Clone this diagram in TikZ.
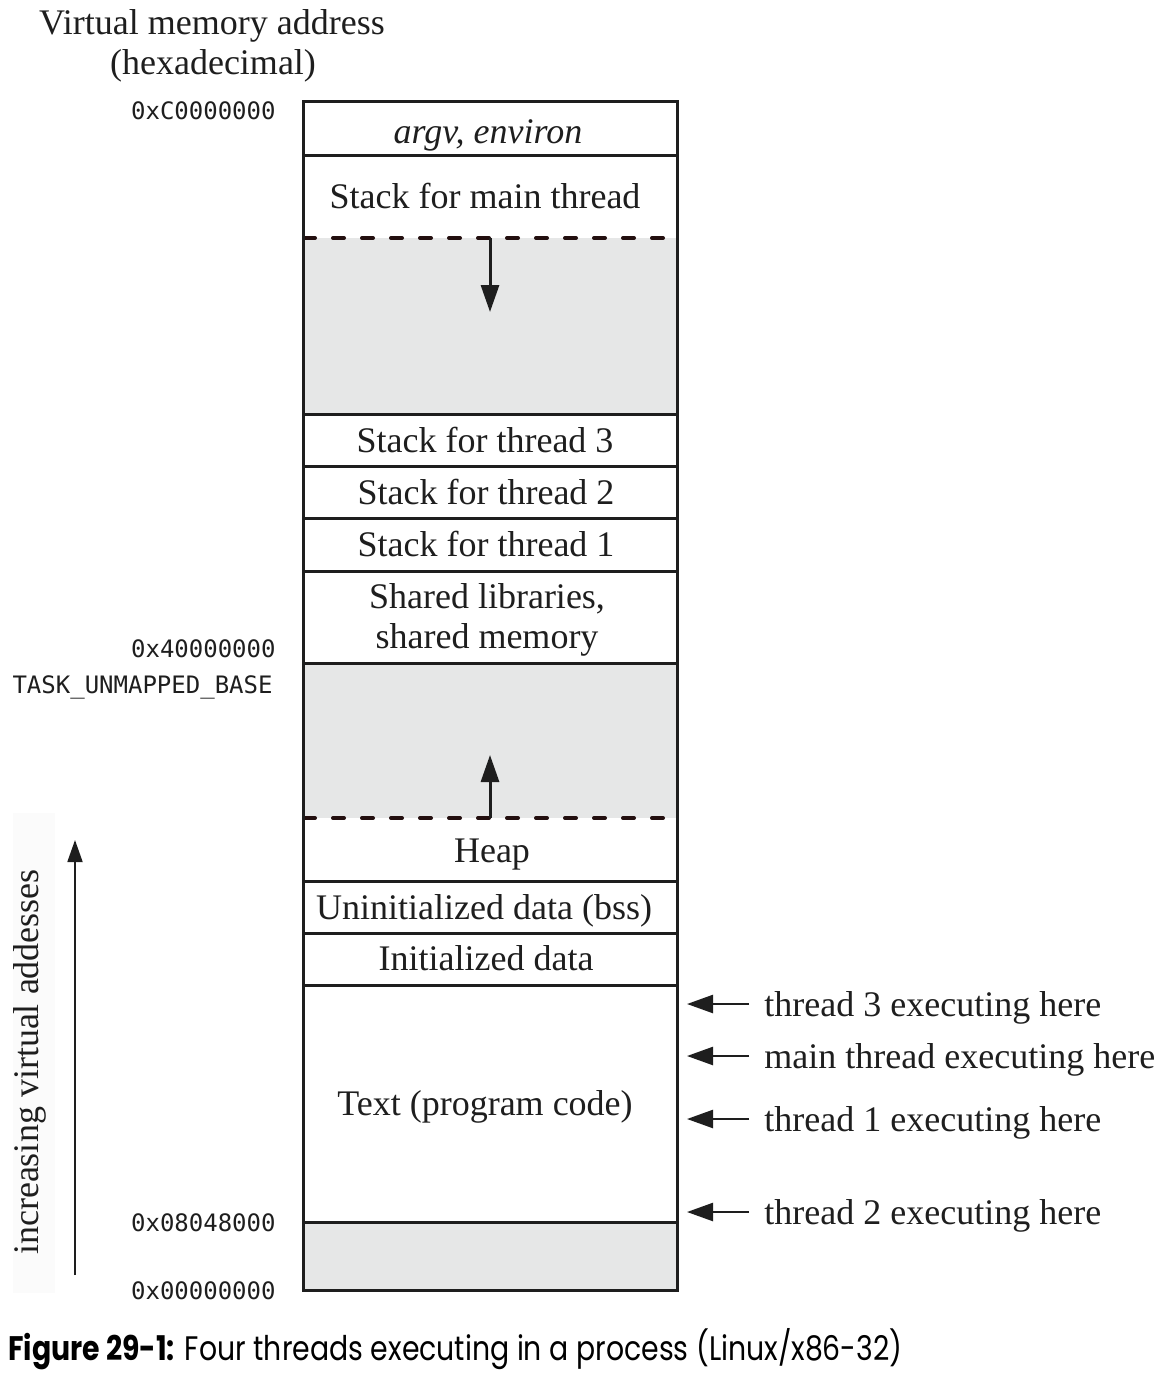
\documentclass[tikz,border=0pt]{standalone}
\usepackage{fontspec}
\setmainfont{Liberation Serif}
\newfontfamily\addrfont{DejaVu Sans Mono}
\newfontfamily\capfont{Poppins}
\usetikzlibrary{arrows.meta}
\definecolor{gfill}{RGB}{230,231,231}
\definecolor{dashcol}{RGB}{35,15,15}
\definecolor{inkc}{RGB}{30,30,30}
\begin{document}
\begin{tikzpicture}[x=0.5pt,y=-0.5pt,
  seg/.style={draw=inkc, line width=1.5pt},
  lblbase/.style={font=\fontsize{18}{20}\selectfont, inner sep=0pt, text height=12.6pt, text depth=4pt, text=inkc},
  lbl/.style={lblbase, yshift=-2pt},
  lbltwo/.style={font=\fontsize{18}{20}\selectfont, inner sep=0pt, align=center, text=inkc, yshift=-1.5pt},
  addr/.style={font=\addrfont\fontsize{12}{14}\selectfont, anchor=east, inner sep=0pt, text height=8.8pt, text depth=2.4pt, text=inkc, yshift=-1.5pt},
  dashline/.style={draw=dashcol, line width=2pt, dash pattern=on 5.5pt off 9pt, line cap=round},
  growarrow/.style={draw=inkc, line width=1.5pt, -{Triangle[length=13.5pt,width=9pt]}},
  ptr/.style={draw=inkc, line width=1.2pt, -{Triangle[length=13pt,width=9pt]}},
  incarrow/.style={draw=inkc, line width=0.9pt, -{Triangle[length=11pt,width=7.5pt]}}
]
\useasboundingbox (0,0) rectangle (1174,1380);
% faint background strip at left
\fill[black!1.5] (13,813) rectangle (55,1293);
% memory box
\fill[white] (303,102) rectangle (677,1290);
\fill[gfill] (303,238) rectangle (677,414);
\fill[gfill] (303,663) rectangle (677,818);
\fill[gfill] (303,1222) rectangle (677,1290);
\foreach \yy in {156,414,466,518,571,663,881,933,985,1222}
  \draw[seg] (303,\yy) -- (677,\yy);
\draw[dashline] (304,238) -- (676,238);
\draw[dashline] (304,818) -- (676,818);
\draw[seg] (303,102) rectangle (677,1290);
% region labels
\node[lbl] (argv) at (488,131) {\itshape argv, environ};
\node[lbl] (smain) at (485,196) {Stack for main thread};
\node[lbl] (s3) at (485,440) {Stack for thread 3};
\node[lbl] (s2) at (486,492) {Stack for thread 2};
\node[lbl] (s1) at (486,544) {Stack for thread 1};
\node[lbltwo] (shlib) at (487,617) {Shared libraries,\\shared memory};
\node[lbl] (heap) at (492,850) {Heap};
\node[lbl] (bss) at (484,907) {Uninitialized data (bss)};
\node[lbl] (idata) at (486,958) {Initialized data};
\node[lbl] (text) at (485,1103) {Text (program code)};
% growth arrows
\coordinate (dtop) at (490,238);
\coordinate (dtip) at (490,312);
\coordinate (ubot) at (490,818);
\coordinate (utip) at (490,755);
\draw[growarrow] (dtop) -- (dtip);
\draw[growarrow] (ubot) -- (utip);
% heading
\node[lbl] (hd1) at (212,22) {Virtual memory address};
\node[lbl] (hd2) at (213,62) {(hexadecimal)};
% addresses
\node[addr] (aC) at (276,110) {0xC0000000};
\node[addr] (a4) at (276,648) {0x40000000};
\node[addr] (atask) at (273,684) {TASK\_UNMAPPED\_BASE};
\node[addr] (a08) at (276,1222) {0x08048000};
\node[addr] (a00) at (276,1290) {0x00000000};
% increasing addresses
\node[lblbase, rotate=90] (incr) at (30,1062) {increasing virtual addesses};
\coordinate (ibot) at (75,1275);
\coordinate (itop) at (75,840);
\draw[incarrow] (ibot) -- (itop);
% thread pointers
\node[lbl, anchor=west] (t3) at (764,1004) {thread 3 executing here};
\node[lbl, anchor=west] (tm) at (764,1056) {main thread executing here};
\node[lbl, anchor=west] (t1) at (764,1119) {thread 1 executing here};
\node[lbl, anchor=west] (t2) at (764,1212) {thread 2 executing here};
\foreach \n/\yy in {t3/1004,tm/1056,t1/1119,t2/1212}{
  \coordinate (p\n) at (687,\yy);
  \draw[ptr] ([xshift=-7.5pt]\n.west |- p\n) -- (p\n);
}
% caption
\node[anchor=base west, inner sep=0pt, text=black] (cap) at (8,1360)
  {\resizebox{447pt}{\height}{\capfont\fontsize{17}{20}\selectfont\textbf{Figure 29-1:} Four threads executing in a process (Linux/x86-32)}};
\end{tikzpicture}
\end{document}
